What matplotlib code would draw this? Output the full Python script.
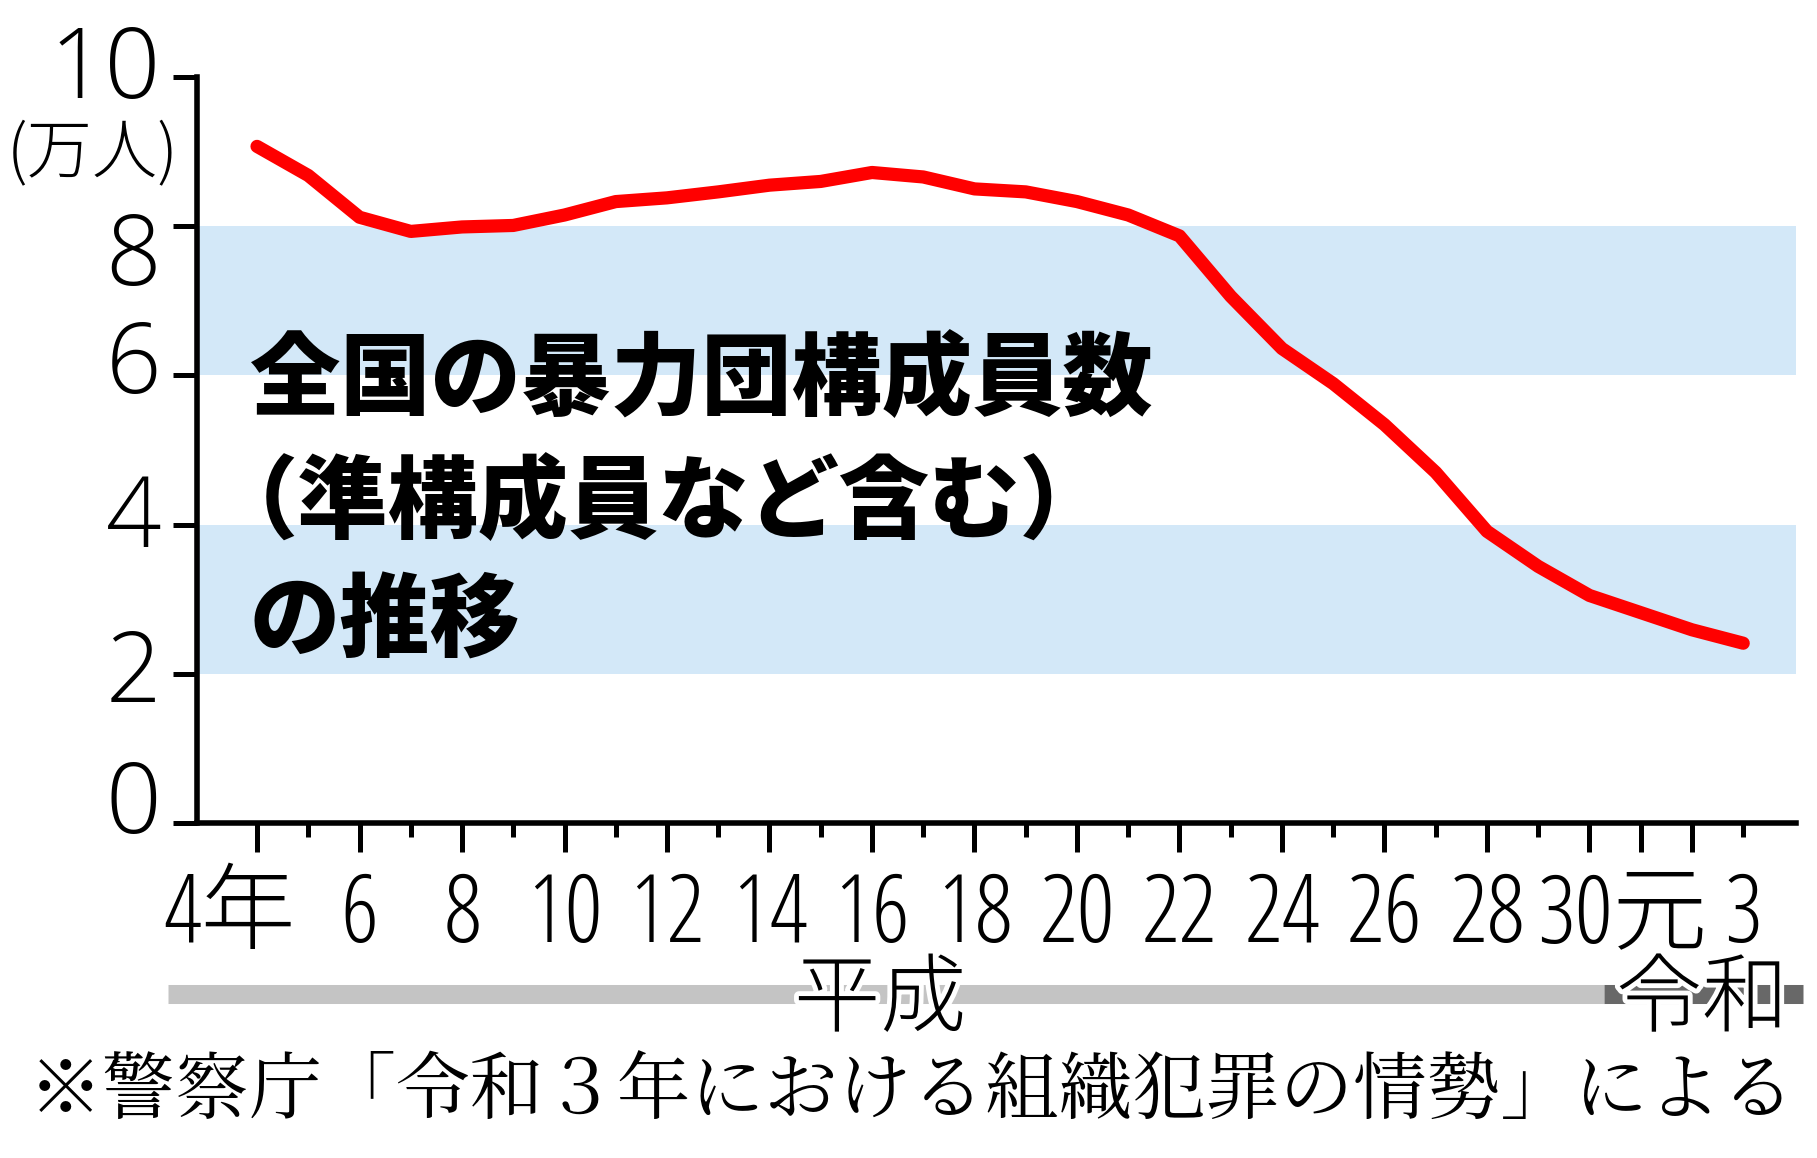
import numpy as np
import matplotlib
matplotlib.use("Agg")
import matplotlib.pyplot as plt
import matplotlib.transforms as mtransforms
import matplotlib.patheffects as pe

# データ(万人)、平成4年~令和3年
era_years = ["平成4", "平成5", "平成6", "平成7", "平成8", "平成9", "平成10", "平成11",
             "平成12", "平成13", "平成14", "平成15", "平成16", "平成17", "平成18", "平成19",
             "平成20", "平成21", "平成22", "平成23", "平成24", "平成25", "平成26", "平成27",
             "平成28", "平成29", "平成30", "令和元", "令和2", "令和3"]
members = [9.07, 8.68, 8.12, 7.93, 7.99, 8.01, 8.15, 8.33, 8.38, 8.46,
           8.55, 8.60, 8.72, 8.66, 8.50, 8.46, 8.33, 8.15, 7.87, 7.06,
           6.36, 5.89, 5.34, 4.70, 3.91, 3.44, 3.05, 2.82, 2.59, 2.41]
xtick_labels = ["4年", "6", "8", "10", "12", "14", "16", "18", "20", "22",
                "24", "26", "28", "30元", "3"]
ytick_values = [0, 2, 4, 6, 8, 10]
bands = [(2, 4), (6, 8)]

title_lines = ["全国の暴力団構成員数", "（準構成員など含む）", "の推移"]
unit_label = "(万人)"
era_labels = ["平成", "令和"]
source = "※警察庁「令和３年における組織犯罪の情勢」による"

num_x = dict(family=["Open Sans", "Noto Sans CJK JP"], stretch="condensed", weight=300)
num_y = dict(family=["Open Sans", "DejaVu Sans"], weight=300)
thin_jp = dict(family=["Noto Sans CJK JP", "DejaVu Sans"], weight="light")
serif_jp = ["Noto Serif CJK JP", "Noto Serif JP", "Noto Serif SC", "Noto Sans CJK JP"]

fig = plt.figure(figsize=(18.17, 11.58), dpi=100)
ax = fig.add_axes([197/1817, 1 - 823/1158, (1796 - 197)/1817, (823 - 77)/1158])

x = np.arange(len(members))

for lo, hi in bands:
    ax.axhspan(lo, hi, color="#d3e8f8", lw=0, zorder=0)

ax.plot(x, members, color="#ff0000", lw=9.5, solid_capstyle="round",
        solid_joinstyle="round", zorder=3)

ax.set_xlim(-1.171, 30.03)
ax.set_ylim(0, 10)

for s in ["top", "right"]:
    ax.spines[s].set_visible(False)
for s in ["left", "bottom"]:
    ax.spines[s].set_linewidth(4)

# 目盛り
long_idx = [i for i in x if i % 2 == 0] + [era_years.index("令和元")]
short_idx = [i for i in x if i not in long_idx]
ax.set_xticks(long_idx)
ax.set_xticks(short_idx, minor=True)
ax.tick_params(axis="x", which="major", length=21, width=3.6, direction="out", labelbottom=False)
ax.tick_params(axis="x", which="minor", length=10, width=3.6, direction="out")
ax.set_yticks(ytick_values)
ax.tick_params(axis="y", length=17, width=3.6, direction="out", labelleft=False)

# y軸ラベル
ytrans = mtransforms.blended_transform_factory(ax.transAxes, ax.transData)
y_shift = {10: 21, 8: 59, 6: 18, 4: 22, 2: 28, 0: 10}
for v in ytick_values:
    off = mtransforms.offset_copy(ytrans, fig=fig, x=0, y=-y_shift[v] * 0.72, units="points")
    ax.text(-0.0225, v, str(v), transform=off, ha="right", va="baseline",
            fontsize=70, **num_y)

ax.text(93, 1158 - 155, unit_label, transform=None, ha="center", va="center",
        fontsize=47, **thin_jp)

# x軸ラベル
xtrans = mtransforms.blended_transform_factory(ax.transData, ax.transAxes)
label_idx = [0, 2, 4, 6, 8, 10, 12, 14, 16, 18, 20, 22, 24, 26, 29]
for lab, i in zip(xtick_labels, label_idx):
    if lab == "4年":
        ax.text(i - 0.53, -0.1595, lab, transform=xtrans, ha="center",
                va="baseline", fontsize=68, **num_x)
    elif lab == "30元":
        ax.text(i - 1.02, -0.1595, lab, transform=xtrans, ha="left",
                va="baseline", fontsize=68, **num_x)
    else:
        ax.text(i, -0.1595, lab, transform=xtrans, ha="center",
                va="baseline", fontsize=68, **num_x)

# 元号バー
bar_y = -0.2286
split = era_years.index("令和元") - 0.71
ax.hlines(bar_y, -1.737, split, transform=xtrans, color="#c4c4c4", lw=13.7,
          clip_on=False, zorder=1)
ax.hlines(bar_y, split, 30.17, transform=xtrans, color="#686868", lw=13.7,
          clip_on=False, zorder=1)
stroke = [pe.withStroke(linewidth=7, foreground="white")]
ax.text(12.16, -0.2386, era_labels[0], transform=xtrans, ha="center", va="center",
        fontsize=62, path_effects=stroke, zorder=2, **thin_jp)
ax.text(28.2, -0.2386, era_labels[1], transform=xtrans, ha="center", va="center",
        fontsize=62, path_effects=stroke, zorder=2, **thin_jp)

# タイトル
title_x = [250, 208, 250]
title_y = [381, 504, 623]
for line, tx, ty in zip(title_lines, title_x, title_y):
    fig.text(tx / 1817, 1 - ty / 1158, line, ha="left", va="center", fontsize=65,
             family=["Noto Sans CJK JP", "DejaVu Sans"], weight="heavy", zorder=5)

# 出典
fig.text(912 / 1817, 1 - 1093 / 1158, source, ha="center", va="center",
         fontsize=53, family=serif_jp)

fig.savefig("out.png", dpi=100)
